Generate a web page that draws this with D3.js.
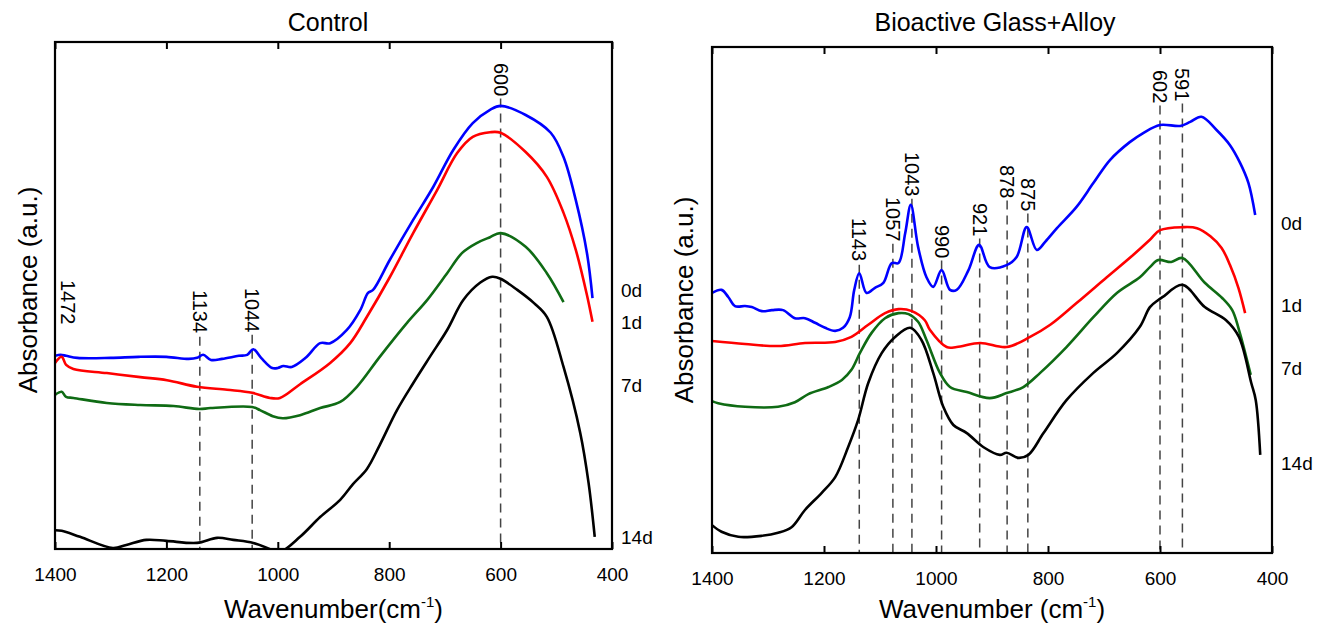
<!DOCTYPE html>
<html>
<head>
<meta charset="utf-8">
<script src="https://cdn.jsdelivr.net/npm/d3@7"></script>
<style>
  body { margin: 0; background: #fff; }
  svg { font-family: "Liberation Sans", Arial, sans-serif; }
</style>
</head>
<body>
<svg id="chart" width="1323" height="629"></svg>
<script>
// FTIR spectra, absorbance in arbitrary units (0-100 of panel height)

// ---- Control panel ----
const ctrl0d = [[1400,38.1],[1390,38.3],[1380,38.1],[1360,37.7],[1300,37.7],[1250,37.9],[1200,37.9],[1160,37.5],[1145,37.7],[1134,38.3],[1120,37.3],[1100,37.5],[1070,38.1],[1055,38.3],[1044,39.4],[1030,37.7],[1010,35.7],[1000,35.7],[990,36.1],[975,35.9],[950,37.7],[924,40.6],[906,40.6],[876,43.2],[852,47.1],[838,50.5],[829,51.1],[799,57.0],[757,64.9],[721,71.4],[685,78.7],[650,84.0],[619,86.6],[600,87.4],[555,85.6],[510,82.1],[487,77.3],[465,68.8],[445,58.4],[435,49.5]];
const ctrl1d = [[1400,36.7],[1388,37.9],[1380,36.3],[1367,35.5],[1307,34.7],[1247,33.9],[1199,33.3],[1145,32.0],[1091,31.4],[1046,30.8],[1014,29.8],[996,29.8],[960,32.5],[906,36.7],[870,40.6],[840,45.8],[799,53.6],[757,62.3],[714,70.8],[678,78.1],[650,81.3],[619,82.2],[600,82.1],[555,78.3],[517,73.4],[487,66.3],[465,59.0],[445,50.1],[435,44.8]];
const ctrl7d = [[1400,30.4],[1388,31.0],[1380,30.0],[1367,29.8],[1307,28.8],[1247,28.4],[1187,28.2],[1141,27.6],[1121,27.8],[1046,28.0],[1032,27.4],[1009,26.2],[991,25.8],[960,26.4],[924,27.8],[888,29.0],[858,32.0],[817,37.9],[768,44.6],[732,49.1],[696,54.4],[669,58.4],[642,60.4],[619,61.5],[600,62.3],[555,59.6],[517,54.4],[487,48.7]];
const ctrl14d = [[1400,3.7],[1388,3.6],[1355,2.4],[1296,0.2],[1272,0.8],[1236,1.8],[1200,1.6],[1145,1.2],[1109,2.2],[1080,1.8],[1044,1.2],[1009,-0.2],[996,-0.6],[960,2.4],[924,6.3],[888,9.7],[865,12.8],[840,15.8],[817,20.5],[786,27.4],[757,32.7],[727,37.9],[696,43.2],[667,49.1],[637,52.5],[615,53.7],[600,53.3],[570,51.1],[540,48.5],[517,45.8],[487,35.9],[457,22.9],[442,13.0],[431,2.4]];
const ctrlPeakText = ["1472", "1134", "1044", "600"];
const ctrlPeakPos = [1377, 1140, 1046, 600];
const ctrlLinePos = [1140, 1046, 600];

// ---- Bioactive Glass+Alloy panel ----
const bga0d = [[1400,51.4],[1383,52.0],[1371,50.6],[1359,48.8],[1341,48.8],[1329,48.6],[1311,47.8],[1293,48.0],[1273,48.0],[1252,46.4],[1234,46.4],[1216,45.5],[1198,44.5],[1180,43.9],[1166,44.5],[1154,46.6],[1146,52.0],[1137,55.3],[1124,51.4],[1109,52.4],[1094,53.4],[1079,57.3],[1067,57.3],[1055,63.2],[1045,68.8],[1032,60.5],[1017,54.5],[1005,52.6],[990,55.9],[975,52.0],[963,52.0],[942,55.9],[923,60.9],[904,56.5],[874,56.9],[856,58.5],[838,64.4],[820,59.9],[805,61.5],[784,64.2],[749,68.4],[719,73.1],[689,77.7],[654,81.2],[630,83.0],[600,84.6],[564,84.4],[546,85.2],[526,86.2],[499,83.6],[475,80.6],[457,77.1],[442,73.1],[430,66.8]];
const bga1d = [[1400,41.9],[1341,41.3],[1282,40.9],[1234,41.5],[1180,41.7],[1151,42.7],[1121,45.1],[1091,47.4],[1067,48.2],[1043,47.8],[1020,46.0],[1011,44.1],[981,40.7],[963,40.7],[921,41.5],[874,40.7],[832,42.7],[796,45.1],[749,49.4],[695,54.5],[648,58.9],[618,61.9],[600,63.8],[558,64.4],[534,64.2],[510,62.6],[490,60.3],[475,56.9],[460,52.4],[448,47.4]];
const bga7d = [[1400,30.0],[1389,29.6],[1341,28.9],[1282,28.9],[1252,29.8],[1228,31.4],[1192,32.8],[1168,34.2],[1151,36.2],[1136,39.5],[1115,43.5],[1091,46.4],[1067,47.4],[1049,47.2],[1032,45.7],[1017,42.1],[993,35.6],[975,32.8],[945,31.8],[904,30.6],[874,31.6],[844,32.8],[814,35.6],[767,40.7],[719,46.6],[677,51.4],[636,54.5],[618,56.5],[603,57.9],[580,57.5],[560,58.3],[520,53.4],[489,50.4],[471,48.0],[459,44.1],[438,35.2]];
const bga14d = [[1400,5.5],[1383,4.2],[1353,3.2],[1311,3.4],[1282,4.0],[1258,5.1],[1234,8.5],[1204,11.9],[1180,15.0],[1157,20.9],[1139,26.3],[1121,33.6],[1097,39.5],[1073,42.7],[1046,44.5],[1026,42.1],[1005,35.6],[987,28.9],[969,25.3],[945,23.7],[915,20.9],[886,19.4],[874,19.8],[853,18.8],[835,19.4],[808,23.7],[767,30.2],[719,35.6],[677,39.5],[636,44.7],[618,48.6],[603,50.0],[595,50.6],[560,53.0],[520,48.6],[482,46.0],[459,42.7],[437,33.6],[429,30.2],[421,19.4]];
const bgaPeakText = ["1143", "1057", "1043", "990", "921", "878", "875", "602", "591"];
const bgaPeakPos = [1137, 1077, 1043, 990, 922, 873, 836, 600, 560];

const tickValues = [1400, 1200, 1000, 800, 600, 400];
const seriesNames = ["0d", "1d", "7d", "14d"];
const seriesColors = ["#0000ff", "#ff0000", "#0f6b14", "#000000"];

// layout for each panel
const panels = [
  {
    id: "ctrl", title: "Control", xLabel: "Wavenumber(cm", left: 55, right: 612, top: 42, bottom: 549,
    series: [ctrl0d, ctrl1d, ctrl7d, ctrl14d],
    peakText: ctrlPeakText, peakPos: ctrlPeakPos, linePos: ctrlLinePos,
    peakTop: [280, 290, 288, 63],
    tagY: [290, 322, 385, 537],
    titleX: 328, yLabelX: 37, yLabelY: 290
  },
  {
    id: "bga", title: "Bioactive Glass+Alloy", xLabel: "Wavenumber (cm", left: 712, right: 1272, top: 47, bottom: 553,
    series: [bga0d, bga1d, bga7d, bga14d],
    peakText: bgaPeakText, peakPos: bgaPeakPos, linePos: bgaPeakPos,
    peakTop: [218, 197, 152, 225, 203, 165, 178, 70, 68],
    tagY: [223, 305, 368, 463],
    titleX: 995, yLabelX: 693, yLabelY: 300
  }
];

const svg = d3.select("#chart");

panels.forEach(p => {
  const x = d3.scaleLinear().domain([1400, 400]).range([p.left, p.right]);
  const y = d3.scaleLinear().domain([0, 100]).range([p.bottom, p.top]);
  const g = svg.append("g");

  g.append("clipPath").attr("id", "clip-" + p.id)
    .append("rect")
    .attr("x", p.left).attr("y", p.top)
    .attr("width", p.right - p.left).attr("height", p.bottom - p.top);

  // dashed peak markers
  g.selectAll(".peakline")
    .data(p.linePos)
    .enter()
    .append("line")
    .attr("x1", d => x(d)).attr("x2", d => x(d))
    .attr("y1", d => {
      const i = p.peakPos.indexOf(d);
      return p.peakTop[i] + p.peakText[i].length * 11.2 + 2;
    })
    .attr("y2", p.bottom)
    .attr("stroke", "#444")
    .attr("stroke-width", 1.5)
    .attr("stroke-dasharray", "9,6");

  // curves
  const line = d3.line()
    .x(d => x(d[0]))
    .y(d => y(d[1]))
    .curve(d3.curveCatmullRom.alpha(0.5));

  g.append("g").attr("clip-path", "url(#clip-" + p.id + ")")
    .selectAll("path")
    .data(p.series)
    .enter()
    .append("path")
    .attr("d", line)
    .attr("fill", "none")
    .attr("stroke", (d, i) => seriesColors[i])
    .attr("stroke-width", 2.6)
    .attr("stroke-linejoin", "round");

  // peak labels, rotated to read downward
  g.selectAll(".peaktext")
    .data(p.peakText)
    .enter()
    .append("text")
    .attr("transform", (d, i) => `translate(${x(p.peakPos[i])},${p.peakTop[i]}) rotate(90)`)
    .attr("dy", "0.35em")
    .attr("font-size", 20)
    .text(d => d);

  // frame
  g.append("rect")
    .attr("x", p.left).attr("y", p.top)
    .attr("width", p.right - p.left).attr("height", p.bottom - p.top)
    .attr("fill", "none").attr("stroke", "#000").attr("stroke-width", 2.2);

  // axes with inward ticks
  const bottomAxis = g.append("g")
    .attr("transform", `translate(0,${p.bottom})`)
    .call(d3.axisBottom(x).tickValues(tickValues).tickSize(-7).tickPadding(19).tickFormat(d3.format("d")));
  const topAxis = g.append("g")
    .attr("transform", `translate(0,${p.top})`)
    .call(d3.axisTop(x).tickValues(tickValues).tickSize(-7).tickFormat(""));
  [bottomAxis, topAxis].forEach(a => {
    a.select(".domain").remove();
    a.selectAll(".tick line").attr("stroke", "#000").attr("stroke-width", 2);
    a.selectAll(".tick text").attr("font-size", 19).attr("fill", "#000")
      .attr("font-family", "Liberation Sans, Arial, sans-serif");
  });

  // series tags on the right
  g.selectAll(".tag")
    .data(seriesNames)
    .enter()
    .append("text")
    .attr("x", p.right + 9)
    .attr("y", (d, i) => p.tagY[i])
    .attr("dy", "0.35em")
    .attr("font-size", 19)
    .text(d => d);

  // title
  g.append("text")
    .attr("x", p.titleX).attr("y", 31)
    .attr("text-anchor", "middle")
    .attr("font-size", 25)
    .text(p.title);

  // x axis label with superscript
  const xl = g.append("text")
    .attr("x", (p.left + p.right) / 2).attr("y", 618)
    .attr("text-anchor", "middle")
    .attr("font-size", 26);
  xl.append("tspan").text(p.xLabel);
  xl.append("tspan").attr("font-size", 15).attr("dy", -11).text("-1");
  xl.append("tspan").attr("dy", 11).text(")");

  // y axis label
  g.append("text")
    .attr("transform", `translate(${p.yLabelX},${p.yLabelY}) rotate(-90)`)
    .attr("text-anchor", "middle")
    .attr("font-size", 26)
    .text("Absorbance (a.u.)");
});
</script>
</body>
</html>
